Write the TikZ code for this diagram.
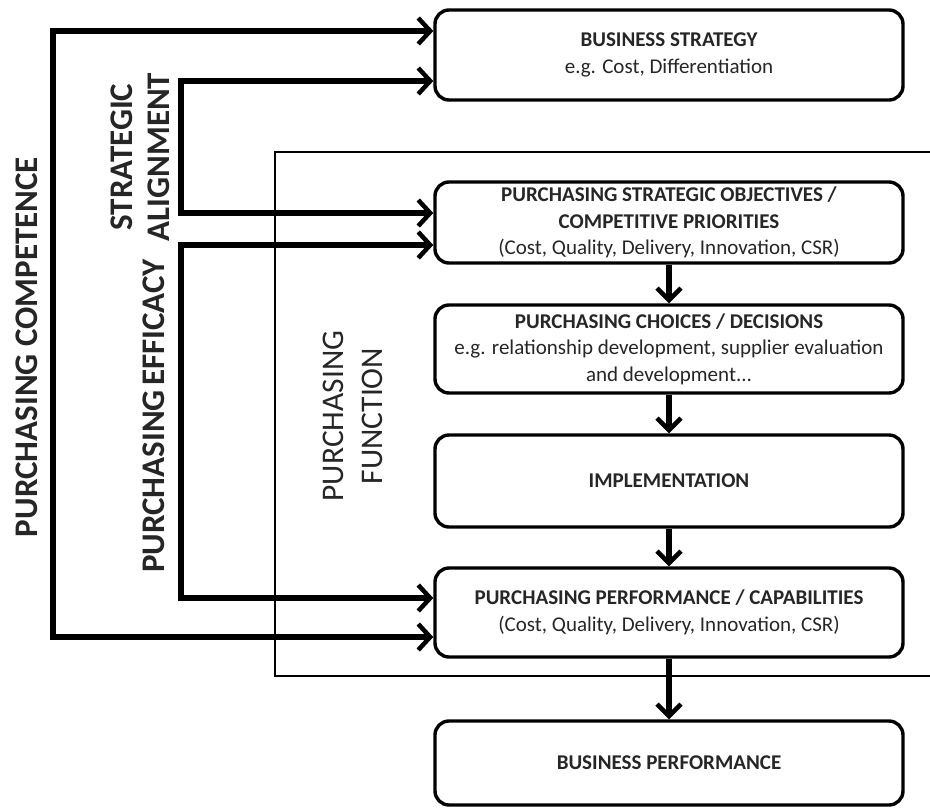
\documentclass[tikz,border=0pt]{standalone}
\usepackage{fontspec}
\setmainfont{Carlito}
\usetikzlibrary{arrows.meta}
\definecolor{ink}{HTML}{262626}
\begin{document}
\begin{tikzpicture}[x=1pt,y=-1pt,
  box/.style={draw=black,line width=3.4pt,rounded corners=14pt,minimum width=468pt,
    align=center,font=\fontsize{21}{26.5}\selectfont,text=ink,inner sep=2pt},
  flow/.style={line width=5.5pt,-{Straight Barb[length=12pt,width=24pt,line width=4.5pt]}},
  link/.style={line width=5.8pt,{Straight Barb[length=12pt,width=26pt,line width=4.5pt]}-{Straight Barb[length=12pt,width=26pt,line width=4.5pt]}},
  frame/.style={line width=2.8pt},
  side/.style={rotate=90,font=\bfseries\fontsize{33}{37}\selectfont,align=center,text=ink},
  func/.style={rotate=90,font=\fontsize{31.5}{39}\selectfont,align=center,text=ink}]
\useasboundingbox (0,0) rectangle (930,807);
\fill[white] (0,0) rectangle (930,807);
% frame of the purchasing function
\draw[frame] (934,152) -- (275,152) -- (275,676) -- (934,676);
% boxes
\node[box,minimum height=90pt] (bs) at (669,55) {\textbf{BUSINESS STRATEGY}\\e.g. Cost, Differentiation};
\node[box,minimum height=81pt] (pso) at (669,222.5) {\textbf{PURCHASING STRATEGIC OBJECTIVES /}\\\textbf{COMPETITIVE PRIORITIES}\\(Cost, Quality, Delivery, Innovation, CSR)};
\node[box,minimum height=88pt] (pcd) at (669,349) {\textbf{PURCHASING CHOICES / DECISIONS}\\e.g. relationship development, supplier evaluation\\and development...};
\node[box,minimum height=92pt] (imp) at (669,481) {\textbf{IMPLEMENTATION}};
\node[box,minimum height=89pt] (ppc) at (669,612.5) {\textbf{PURCHASING PERFORMANCE / CAPABILITIES}\\(Cost, Quality, Delivery, Innovation, CSR)};
\node[box,minimum height=84pt] (bp) at (669,763) {\textbf{BUSINESS PERFORMANCE}};
% down arrows
\draw[flow] (pso) -- (pcd);
\draw[flow] (pcd) -- (imp);
\draw[flow] (imp) -- (ppc);
\draw[flow] (ppc) -- (bp);
% feedback links
\coordinate (ct) at (53,31);
\coordinate (cb) at (53,637);
\coordinate (at) at (181,81);
\coordinate (ab) at (181,213);
\coordinate (et) at (181,245);
\coordinate (eb) at (181,598);
\draw[link] (ct -| bs.west) -- (ct) -- (cb) -- (cb -| ppc.west);
\draw[link] (at -| bs.west) -- (at) -- (ab) -- (ab -| pso.west);
\draw[link] (et -| pso.west) -- (et) -- (eb) -- (eb -| ppc.west);
% labels
\node[side] (lcomp) at (27,347) {PURCHASING COMPETENCE};
\node[side] (lalign) at (140,157) {STRATEGIC\\ALIGNMENT};
\node[side] (leff) at (154,416) {PURCHASING\hspace{-0.1em} EFFICACY};
\node[func] (lfunc) at (353,416) {PURCHASING\\FUNCTION};
\end{tikzpicture}
\end{document}
